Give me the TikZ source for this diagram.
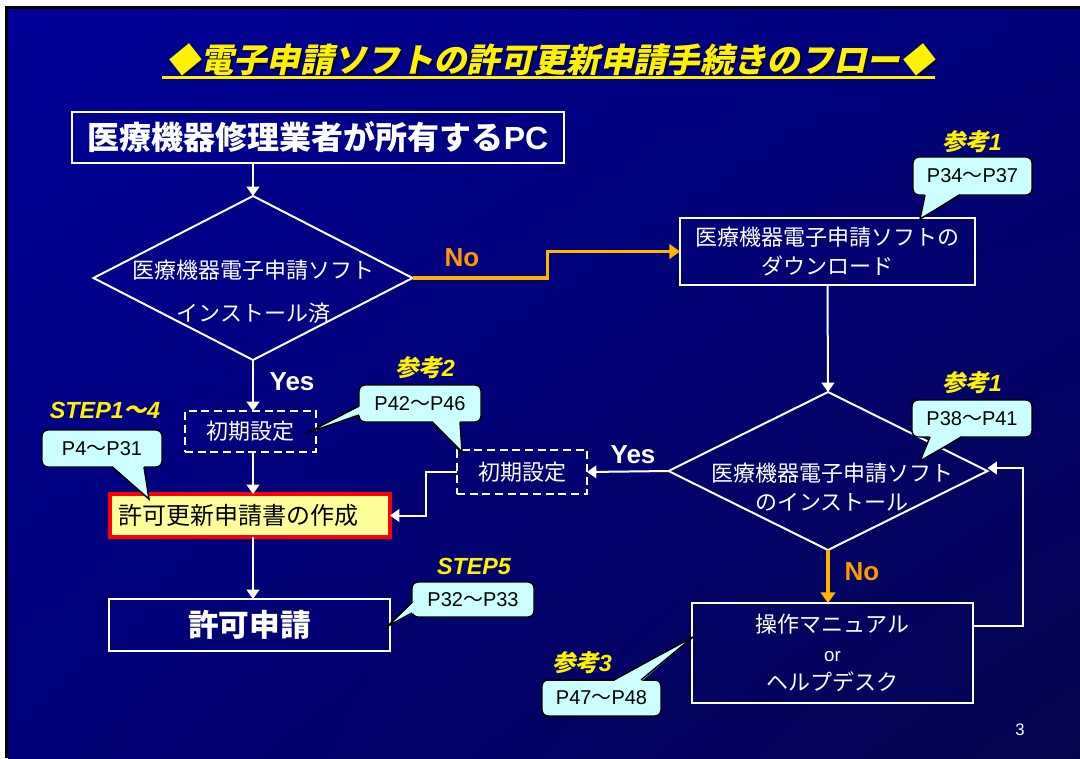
\documentclass[tikz,border=0pt]{standalone}
\usepackage{fontspec}
\setmainfont{Liberation Sans}
\newfontfamily\jp{Noto Sans CJK JP}
\newfontfamily\jpsl{Noto Sans CJK JP}[FakeSlant=0.22]
\usetikzlibrary{shapes.geometric,arrows.meta,calc,shadings}
\definecolor{bgA}{HTML}{000099}
\definecolor{bgB}{HTML}{000078}
\definecolor{bgC}{HTML}{05054F}
\definecolor{orl}{HTML}{FFB400}
\definecolor{ort}{HTML}{FF9900}
\definecolor{cya}{HTML}{CCFFFF}
\definecolor{crfill}{HTML}{FFFF99}
\definecolor{shad}{HTML}{000033}
\newcommand\px[1]{#1*0.75pt}
\newcommand\fsz[2]{\fontsize{#1}{#2}\selectfont}
\newcommand\tl{{\jp ～}}
% tails: node, offset1, offset2, tip
\newcommand\tailS[4]{%
  \fill[cya] ($(#1.south west)+(#2,-1.6)$) -- (#4) -- ($(#1.south west)+(#3,-1.6)$) -- cycle;
  \draw[cline] ($(#1.south west)+(#2,0)$) -- (#4) -- ($(#1.south west)+(#3,0)$);}
\newcommand\tailN[4]{%
  \fill[cya] ($(#1.north west)+(#2,1.6)$) -- (#4) -- ($(#1.north west)+(#3,1.6)$) -- cycle;
  \draw[cline] ($(#1.north west)+(#2,0)$) -- (#4) -- ($(#1.north west)+(#3,0)$);}
\newcommand\tailW[4]{%
  \fill[cya] ($(#1.north west)+(1.6,#2)$) -- (#4) -- ($(#1.north west)+(1.6,#3)$) -- cycle;
  \draw[cline] ($(#1.north west)+(0,#2)$) -- (#4) -- ($(#1.north west)+(0,#3)$);}
\begin{document}
\begin{tikzpicture}[x=0.75pt,y=-0.75pt,
  every node/.style={inner sep=0pt, outer sep=0pt},
  wbox/.style={draw=white, line width=1.5pt, text=white, align=center},
  dbox/.style={draw=white, line width=1.5pt, dash pattern=on 6pt off 3.5pt, text=white},
  wdia/.style={diamond, draw=white, line width=1.5pt},
  wtxt/.style={text=white, align=center},
  jpt/.style={font=\fsz{16.5}{21.75}\jp},
  arr/.style={draw=white, line width=1.5pt, -{Triangle[width=9.5pt,length=7pt]}},
  oarr/.style={draw=orl, line width=2.3pt, -{Triangle[width=11pt,length=8pt]}},
  call/.style={fill=cya, draw=black, line width=1.1pt, rounded corners=4.5pt, text=black, font=\fsz{15}{16}},
  cline/.style={draw=black, line width=1.1pt, line join=miter},
  ref/.style={text=yellow, font=\fsz{17.5}{18}\bfseries\itshape},
  yn/.style={text=white, font=\fsz{19.5}{20}\bfseries},
  on/.style={text=ort, font=\fsz{19.5}{20}\bfseries}
]
\useasboundingbox (0,0) rectangle (1080,758);
% background
\fill[white] (0,0) rectangle (1080,758);
\fill[black] (5,6) rectangle (1080,758);
\shade[upper left=bgA, upper right=bgB, lower left=bgB, lower right=bgC] (8,9) rectangle (1080,758);

% title
\node[text=shad, font=\fsz{25}{26}\jpsl\bfseries] at (552,62) {◆電子申請ソフトの許可更新申請手続きのフロー◆};
\node[text=yellow, font=\fsz{25}{26}\jpsl\bfseries] (title) at (550,60) {◆電子申請ソフトの許可更新申請手続きのフロー◆};
\draw[yellow, line width=2pt] (162,77.5) -- (935,77.5);

% main nodes
\node[wbox, minimum width=\px{492}, minimum height=\px{51}, font=\fsz{24}{25}\bfseries] (pc) at (318,137.5)
  {{\jp 医療機器修理業者が所有する}PC};
\node[wdia, minimum width=\px{319}, minimum height=\px{164}] (d1) at (253,278) {};
\node[wtxt, jpt] (d1t) at (253.5,291.5) {医療機器電子申請ソフト\\[10.5pt]インストール済};

\node[wbox, jpt, minimum width=\px{295}, minimum height=\px{67}] (dl) at (827.5,251.5)
  {医療機器電子申請ソフトの\\ダウンロード};

\node[wdia, minimum width=\px{319}, minimum height=\px{158}] (d2) at (828,471) {};
\node[wtxt, jpt] (d2t) at (832,487.5) {医療機器電子申請ソフト\\のインストール};

\node[dbox, jpt, minimum width=\px{131}, minimum height=\px{41}] (s1) at (250.5,431.5) {初期設定};
\node[dbox, jpt, minimum width=\px{130}, minimum height=\px{44}] (s2) at (522,472) {初期設定};

\node[fill=crfill, draw=red, line width=3pt, minimum width=\px{280}, minimum height=\px{43}] (cb) at (250,515.5) {};
\node[text=black, font=\fsz{18}{19}\jp] (cbt) at (238,515.5) {許可更新申請書の作成};

\node[wbox, minimum width=\px{281}, minimum height=\px{52}, font=\fsz{23}{24}\jp\bfseries] (kp) at (249.5,625)
  {許可申請};

\node[wbox, jpt, minimum width=\px{281}, minimum height=\px{100}] (op) at (832.5,653)
  {操作マニュアル\\{\rmfamily\fsz{14}{21.75}or}\\ヘルプデスク};

% connectors
\draw[arr] (d1.north |- pc.south) -- (d1.north);
\draw[oarr] (d1.east) -- ++(135,0) |- (dl.west);
\node[on] (no1) at (462,258) {No};
\draw[arr] (dl.south) -- (d2.north);
\draw[arr] (d1.south) -- (d1.south |- s1.north);
\node[yn] (yes1) at (292,382) {Yes};
\draw[arr] (d1.south |- s1.south) -- (d1.south |- cb.north);
\draw[arr] (d1.south |- cb.south) -- (d1.south |- kp.north);
\draw[arr] (d2.west) -- (s2.east);
\node[yn] (yes2) at (633,455) {Yes};
\draw[arr] (s2.west) -- ++(-31,0) |- (cb.east);
\draw[oarr] (d2.south) -- (d2.south |- op.north);
\node[on] (no2) at (862,572) {No};
\draw[arr] ($(op.east)+(0,-27)$) -- ++(50,0) |- ($(d2.east)+(0,-3)$);

% callouts
\coordinate (t1) at (920,219);
\coordinate (t2) at (920,461);
\coordinate (t3a) at (307,433);
\coordinate (t3b) at (462,452);
\coordinate (t4) at (149,499);
\coordinate (t5) at (388,626);
\coordinate (t6) at (693,637);

\node[call, minimum width=\px{119}, minimum height=\px{38}] (c1) at (972.5,176) {P34\tl P37};
\tailS{c1}{12}{47}{t1}
\node[ref] (r1) at (972,142) {{\jpsl\bfseries 参考}1};

\node[call, minimum width=\px{120}, minimum height=\px{37}] (c2) at (972,418.5) {P38\tl P41};
\tailS{c2}{18}{50}{t2}
\node[ref] (r2) at (972,383) {{\jpsl\bfseries 参考}1};

\node[call, minimum width=\px{122}, minimum height=\px{37}] (c3) at (420,403.5) {P42\tl P46};
\tailW{c3}{21}{30}{t3a}
\tailS{c3}{73}{101}{t3b}
\node[ref] (r3) at (425,368) {{\jpsl\bfseries 参考}2};

\node[call, minimum width=\px{120}, minimum height=\px{37}] (c4) at (102,448.5) {P4\tl P31};
\tailS{c4}{70}{102}{t4}
\node[ref] (r4) at (105,410) {STEP1{\jpsl\bfseries ～}4};

\node[call, minimum width=\px{122}, minimum height=\px{35}] (c5) at (473,599.5) {P32\tl P33};
\tailW{c5}{20}{31}{t5}
\node[ref] (r5) at (474,566) {STEP5};

\node[call, minimum width=\px{119}, minimum height=\px{36}] (c6) at (601.5,698) {P47\tl P48};
\tailN{c6}{71}{99}{t6}
\node[ref] (r6) at (582,663) {{\jpsl\bfseries 参考}3};

% page number
\node[text=white] (pg) at (1020,730) {\fsz{12.5}{13}3};
\end{tikzpicture}
\end{document}
